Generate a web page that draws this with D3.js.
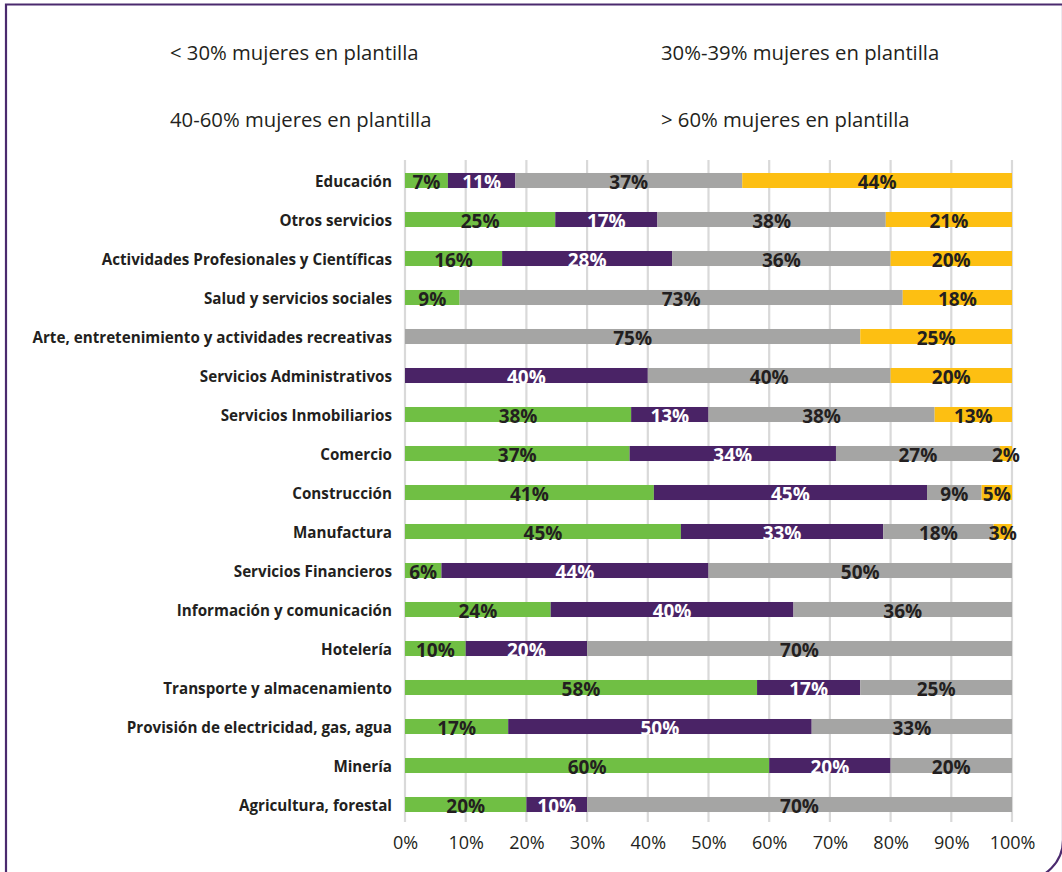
<!DOCTYPE html>
<html>
<head>
<meta charset="utf-8">
<script src="https://cdn.jsdelivr.net/npm/d3@7"></script>
<style>
  html, body { margin: 0; padding: 0; background: #ffffff; }
  svg { display: block; }
</style>
</head>
<body>
<svg id="chart" width="1062" height="872"></svg>
<script>
const categories = [
  "Educación",
  "Otros servicios",
  "Actividades Profesionales y Científicas",
  "Salud y servicios sociales",
  "Arte, entretenimiento y actividades recreativas",
  "Servicios Administrativos",
  "Servicios Inmobiliarios",
  "Comercio",
  "Construcción",
  "Manufactura",
  "Servicios Financieros",
  "Información y comunicación",
  "Hotelería",
  "Transporte y almacenamiento",
  "Provisión de electricidad, gas, agua",
  "Minería",
  "Agricultura, forestal"
];
const seriesNames = [
  "< 30% mujeres en plantilla",
  "30%-39% mujeres en plantilla",
  "40-60% mujeres en plantilla",
  "> 60% mujeres en plantilla"
];
const lessThan30 = [7, 25, 16, 9, 0, 0, 38, 37, 41, 45, 6, 24, 10, 58, 17, 60, 20];
const from30to39 = [11, 17, 28, 0, 0, 40, 13, 34, 45, 33, 44, 40, 20, 17, 50, 20, 10];
const from40to60 = [37, 38, 36, 73, 75, 40, 38, 27, 9, 18, 50, 36, 70, 25, 33, 20, 70];
const moreThan60 = [44, 21, 20, 18, 25, 20, 13, 2, 5, 3, 0, 0, 0, 0, 0, 0, 0];
const tickValues = [0, 0.1, 0.2, 0.3, 0.4, 0.5, 0.6, 0.7, 0.8, 0.9, 1];

const colors = ["#70bf44", "#4a2366", "#a5a5a4", "#fdbf12"];
const labelColors = ["#231f20", "#ffffff", "#231f20", "#231f20"];

const svg = d3.select("#chart");

// frame: square top-left, rounded bottom-right
const fx0 = 6, fy0 = 4.5, fx1 = 1063, fy1 = 880, r = 40;
svg.append("path")
  .attr("d", `M${fx0},${fy1 + 20} L${fx0},${fy0} L${fx1 + 20},${fy0} M${fx1},${fy0} L${fx1},${fy1 - r} A${r},${r} 0 0 1 ${fx1 - r},${fy1} L${fx0},${fy1}`)
  .attr("fill", "none")
  .attr("stroke", "#4b2a6e")
  .attr("stroke-width", 2.2);

const keys = ["a", "b", "c", "d"];
const rows = categories.map((c, i) => ({
  cat: c, a: lessThan30[i], b: from30to39[i], c: from40to60[i], d: moreThan60[i]
}));

const stack = d3.stack().keys(keys).offset(d3.stackOffsetExpand);
const stacked = stack(rows);

const x = d3.scaleLinear().domain([0, 1]).range([405, 1012]);
const y = d3.scaleBand().domain(categories).range([161, 824])
  .paddingInner(0.615).paddingOuter(0.3075);

// gridlines
svg.append("g").selectAll("line").data(tickValues).join("line")
  .attr("x1", d => x(d)).attr("x2", d => x(d))
  .attr("y1", 160).attr("y2", 822)
  .attr("stroke", "#d9d9d9").attr("stroke-width", 2.2);

// axis labels
const xAxis = d3.axisBottom(x).tickValues(tickValues)
  .tickFormat(d3.format(".0%")).tickSize(0).tickPadding(0);
const ag = svg.append("g").attr("transform", "translate(0,836)").call(xAxis);
ag.select(".domain").remove();
ag.selectAll("text")
  .attr("dy", null).attr("y", 12.5)
  .style("font-family", "'Open Sans', sans-serif")
  .style("font-size", "18px")
  .attr("fill", "#231f20");

// bars
const layers = svg.append("g").selectAll("g").data(stacked).join("g")
  .attr("fill", (d, i) => colors[i]);
layers.selectAll("rect").data(d => d.map(v => ({v, cat: v.data.cat}))).join("rect")
  .attr("x", d => x(d.v[0]))
  .attr("width", d => x(d.v[1]) - x(d.v[0]))
  .attr("y", d => y(d.cat))
  .attr("height", y.bandwidth());

// value labels
const lg = svg.append("g");
stacked.forEach((layer, li) => {
  lg.selectAll(null).data(layer.filter(v => v.data[keys[li]] > 0)).join("text")
    .attr("x", v => (x(v[0]) + x(v[1])) / 2)
    .attr("y", v => y(v.data.cat) + y.bandwidth() / 2 + 8.5)
    .attr("text-anchor", "middle")
    .style("font-family", "'Open Sans', sans-serif")
    .style("font-weight", "700")
    .style("font-size", "19px")
    .attr("fill", labelColors[li])
    .text(v => v.data[keys[li]] + "%");
});

// category labels
svg.append("g").selectAll("text").data(categories).join("text")
  .attr("x", 392)
  .attr("y", d => y(d) + y.bandwidth() / 2 + 6)
  .attr("text-anchor", "end")
  .style("font-family", "'Open Sans', sans-serif")
  .style("font-weight", "700")
  .style("font-size", "15.2px")
  .attr("fill", "#231f20")
  .text(d => d);

// legend (text only)
const legendPos = [[170, 60], [661, 60], [170, 127], [661, 127]];
svg.append("g").selectAll("text").data(seriesNames).join("text")
  .attr("x", (d, i) => legendPos[i][0])
  .attr("y", (d, i) => legendPos[i][1])
  .style("font-family", "'Open Sans', sans-serif")
  .style("font-size", "20.3px")
  .attr("fill", "#231f20")
  .text(d => d);
</script>
</body>
</html>
